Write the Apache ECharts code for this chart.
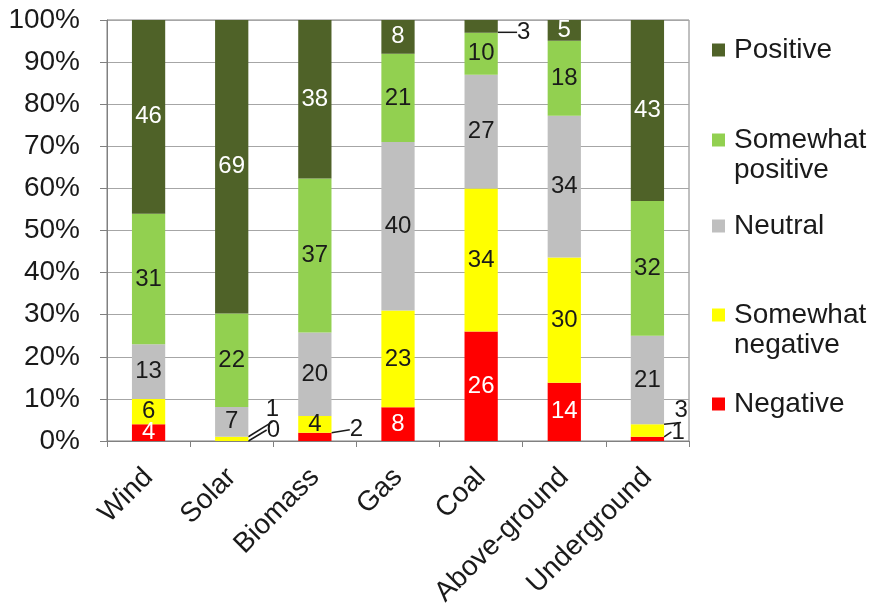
<!DOCTYPE html>
<html>
<head>
<meta charset="utf-8">
<script src="https://cdn.jsdelivr.net/npm/echarts@6/dist/echarts.min.js"></script>
<style>
html,body{margin:0;padding:0;background:#fff;}
#main{width:879px;height:610px;}
</style>
</head>
<body>
<div id="main"></div>
<script>
const categories = ['Wind', 'Solar', 'Biomass', 'Gas', 'Coal', 'Above-ground', 'Underground'];
const negative = [4, 0, 2, 8, 26, 14, 1];
const somewhatNegative = [6, 1, 4, 23, 34, 30, 3];
const neutral = [13, 7, 20, 40, 27, 34, 21];
const somewhatPositive = [31, 22, 37, 21, 10, 18, 32];
const positive = [46, 69, 38, 8, 3, 5, 43];
const yTicks = [0, 10, 20, 30, 40, 50, 60, 70, 80, 90, 100];

const seriesDefs = [
  { name: 'Negative', values: negative, color: '#ff0000', labelColor: '#ffffff' },
  { name: 'Somewhat negative', values: somewhatNegative, color: '#ffff00', labelColor: '#1a1a1a' },
  { name: 'Neutral', values: neutral, color: '#bfbfbf', labelColor: '#1a1a1a' },
  { name: 'Somewhat positive', values: somewhatPositive, color: '#92d050', labelColor: '#1a1a1a' },
  { name: 'Positive', values: positive, color: '#4f6228', labelColor: '#ffffff' }
];

const totals = categories.map((c, i) => seriesDefs.reduce((s, d) => s + d.values[i], 0));

// Style: offsets of outside labels (relative to the bar's right edge / segment centre)
const outsideLabels = {
  'Somewhat negative|Solar': [24, -29],
  'Negative|Solar': [25, -11],
  'Negative|Biomass': [25, -7],
  'Positive|Coal': [26, 6],
  'Somewhat negative|Underground': [17, -20],
  'Negative|Underground': [14, -7]
};

const FONT = "'Liberation Sans', Arial, sans-serif";

const series = seriesDefs.map((d, si) => ({
  name: d.name,
  type: 'bar',
  stack: 'total',
  barWidth: '40%',
  itemStyle: { color: d.color },
  data: d.values.map((v, i) => {
    const key = d.name + '|' + categories[i];
    const item = { value: v / totals[i] * 100 };
    if (outsideLabels[key]) {
      item.label = { color: '#1a1a1a' };
      item.labelLine = { show: true, lineStyle: { color: '#1a1a1a', width: 1.5 } };
    }
    return item;
  }),
  label: {
    show: true,
    position: 'inside',
    color: d.labelColor,
    fontSize: 24,
    fontFamily: FONT,
    formatter: p => String(d.values[p.dataIndex])
  },
  labelLayout: function (params) {
    const key = d.name + '|' + categories[params.dataIndex];
    const off = outsideLabels[key];
    if (!off) return {};
    const r = params.rect;
    return {
      x: r.x + r.width + off[0],
      y: r.y + r.height / 2 + off[1],
      align: 'center',
      verticalAlign: 'middle'
    };
  }
}));

// legend positions (style)
const legendItems = [
  { name: 'Positive', top: 35, multi: false },
  { name: 'Somewhat positive', top: 95, multi: true },
  { name: 'Neutral', top: 211, multi: false },
  { name: 'Somewhat negative', top: 270, multi: true },
  { name: 'Negative', top: 389, multi: false }
];
const legends = legendItems.map(li => ({
  left: 712,
  top: li.top,
  orient: 'vertical',
  padding: 0,
  itemWidth: 13,
  itemHeight: 13,
  itemGap: 0,
  icon: 'rect',
  selectedMode: false,
  data: [li.name],
  formatter: n => li.multi ? '\n' + n.replace(' ', '\n') : n,
  textStyle: {
    fontSize: 28,
    fontFamily: FONT,
    color: '#1a1a1a',
    lineHeight: 30,
    padding: [0, 0, 0, 4]
  }
}));

const chart = echarts.init(document.getElementById('main'), null, { renderer: 'canvas' });
chart.setOption({
  animation: false,
  backgroundColor: '#ffffff',
  grid: { left: 107, right: 190, top: 20, bottom: 169, show: true, borderColor: '#808080', borderWidth: 1 },
  legend: legends,
  xAxis: {
    type: 'category',
    data: categories,
    axisLine: { lineStyle: { color: '#808080', width: 1 } },
    axisTick: { show: true, length: 6, lineStyle: { color: '#808080' } },
    axisLabel: { rotate: 45, fontSize: 28, fontFamily: FONT, color: '#1a1a1a', margin: 32, interval: 0 }
  },
  yAxis: {
    type: 'value',
    min: yTicks[0],
    max: yTicks[yTicks.length - 1],
    interval: yTicks[1] - yTicks[0],
    axisLine: { show: true, lineStyle: { color: '#808080' } },
    axisTick: { show: true, length: 7, lineStyle: { color: '#808080' } },
    splitLine: { lineStyle: { color: '#a6a6a6' } },
    axisLabel: { formatter: '{value}%', fontSize: 28, fontFamily: FONT, color: '#1a1a1a', margin: 27 }
  },
  series: series
});
</script>
</body>
</html>
